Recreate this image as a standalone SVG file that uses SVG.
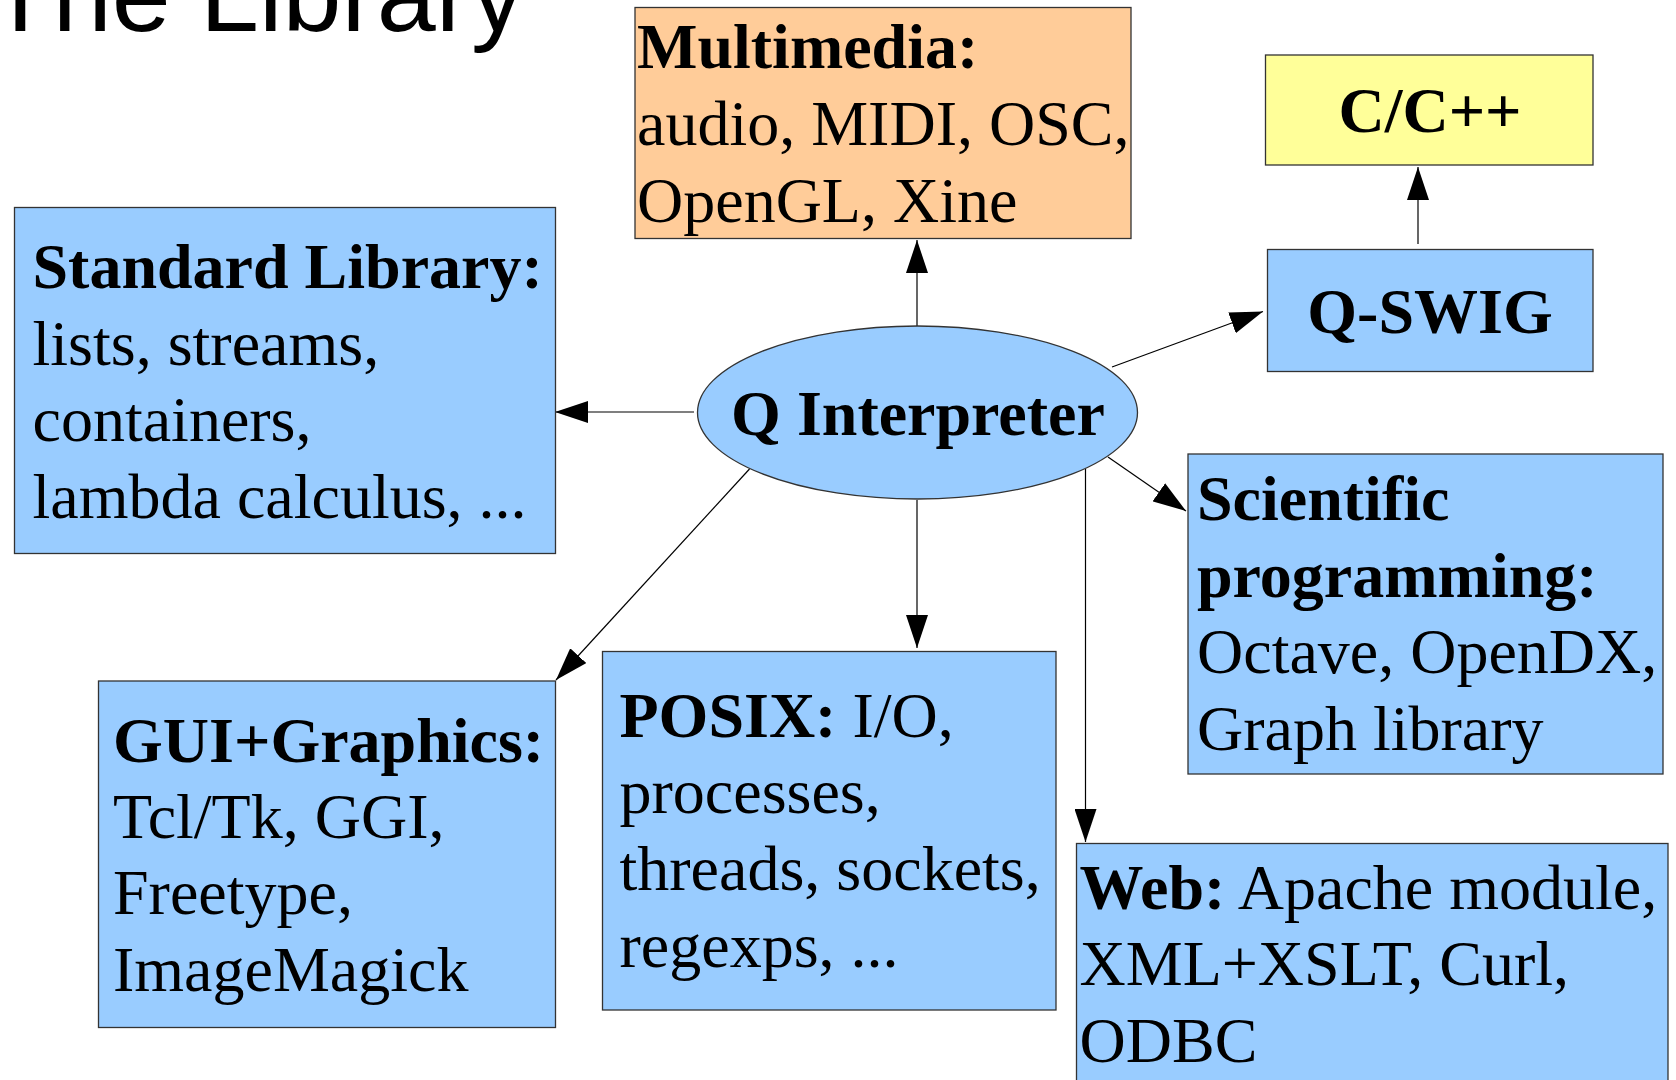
<svg xmlns="http://www.w3.org/2000/svg" width="1676" height="1080" viewBox="0 0 1676 1080">
<defs>
<style>
.box{stroke:#333;stroke-width:1.3}
.blue{fill:#99CCFF}
.peach{fill:#FFCC99}
.yellow{fill:#FFFF99}
.t{font-family:"Liberation Serif","Times New Roman",serif;font-size:64px;fill:#000}
.b{font-weight:bold}
.c{text-anchor:middle}
.title{font-family:"Liberation Sans",Arial,sans-serif;font-size:106px;fill:#000}
.edge{stroke:#000;stroke-width:1.2;fill:none;marker-end:url(#arr)}
</style>
<marker id="arr" viewBox="0 0 33 22" refX="33" refY="11" markerWidth="33" markerHeight="22" markerUnits="userSpaceOnUse" orient="auto">
<path d="M0,0 L33,11 L0,22 z" fill="#000"/>
</marker>
</defs>
<rect width="1676" height="1080" fill="#fff"/>
<text class="title" x="-12" y="31">The Library</text>

<g id="connectors">
<line class="edge" x1="917" y1="326" x2="917" y2="240"/>
<line class="edge" x1="694" y1="412" x2="555" y2="412"/>
<line class="edge" x1="917" y1="500" x2="917" y2="648"/>
<line class="edge" x1="749.5" y1="469" x2="556" y2="680"/>
<line class="edge" x1="1108" y1="457" x2="1186" y2="511"/>
<line class="edge" x1="1085.5" y1="469" x2="1085.5" y2="842"/>
<line class="edge" x1="1112" y1="367" x2="1263" y2="311.5"/>
<line class="edge" x1="1418" y1="244" x2="1418" y2="167"/>
</g>

<g id="multimedia">
<rect class="box peach" x="635" y="7.5" width="496" height="231"/>
<text class="t b" x="637" y="68">Multimedia:</text>
<text class="t" x="637" y="144.5">audio, MIDI, OSC,</text>
<text class="t" x="637" y="221.5">OpenGL, Xine</text>
</g>

<g id="cpp">
<rect class="box yellow" x="1265.5" y="55" width="327.5" height="110"/>
<text class="t b c" x="1430" y="131.5">C/C++</text>
</g>

<g id="qswig">
<rect class="box blue" x="1267.5" y="249.5" width="325.5" height="122"/>
<text class="t b c" x="1430" y="333">Q-SWIG</text>
</g>

<g id="stdlib">
<rect class="box blue" x="14.5" y="207.5" width="541" height="346"/>
<text class="t b" x="32.5" y="288">Standard Library:</text>
<text class="t" x="32.5" y="364.5">lists, streams,</text>
<text class="t" x="32.5" y="441">containers,</text>
<text class="t" x="32.5" y="517.5">lambda calculus, ...</text>
</g>

<g id="interpreter">
<ellipse class="box blue" cx="917.5" cy="412.5" rx="220" ry="86.5"/>
<text class="t b c" x="918" y="435">Q Interpreter</text>
</g>

<g id="scientific">
<rect class="box blue" x="1188" y="454" width="475" height="320"/>
<text class="t b" x="1197" y="520">Scientific</text>
<text class="t b" x="1197" y="596.5">programming:</text>
<text class="t" x="1197" y="673">Octave, OpenDX,</text>
<text class="t" x="1197" y="750">Graph library</text>
</g>

<g id="gui">
<rect class="box blue" x="98.5" y="681" width="457" height="346.5"/>
<text class="t b" x="113" y="761.5">GUI+Graphics:</text>
<text class="t" x="113" y="838">Tcl/Tk, GGI,</text>
<text class="t" x="113" y="914">Freetype,</text>
<text class="t" x="113" y="990.5">ImageMagick</text>
</g>

<g id="posix">
<rect class="box blue" x="602.5" y="651.5" width="453.5" height="358.5"/>
<text class="t" x="619.5" y="736.5"><tspan class="b">POSIX:</tspan> I/O,</text>
<text class="t" x="619.5" y="813">processes,</text>
<text class="t" x="619.5" y="890">threads, sockets,</text>
<text class="t" x="619.5" y="966.5">regexps, ...</text>
</g>

<g id="web">
<rect class="box blue" x="1076.5" y="843.5" width="591.5" height="260"/>
<text class="t" x="1079.5" y="908.5"><tspan class="b">Web:</tspan> Apache module,</text>
<text class="t" x="1079.5" y="985">XML+XSLT, Curl,</text>
<text class="t" x="1079.5" y="1061.5">ODBC</text>
</g>
</svg>
